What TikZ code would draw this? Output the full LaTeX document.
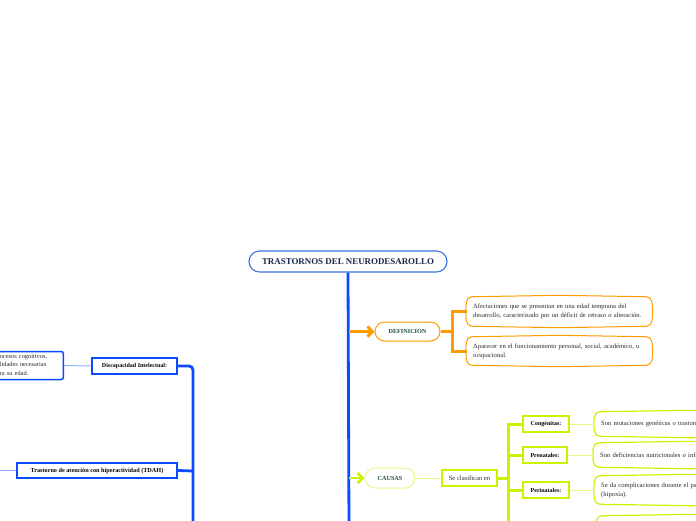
\documentclass[tikz,border=0pt]{standalone}
\usepackage{fontspec}
\setmainfont{Liberation Serif}
\usetikzlibrary{arrows.meta,calc}
\definecolor{trunkblue}{HTML}{0A4BFF}
\definecolor{titleblue}{HTML}{3B72E0}
\definecolor{lightblue}{HTML}{8FB0FF}
\definecolor{navy}{HTML}{1B2A4E}
\definecolor{tealtxt}{HTML}{1F4D4A}
\definecolor{orangec}{HTML}{FF9A00}
\definecolor{limec}{HTML}{CCF200}
\definecolor{limelight}{HTML}{E4F98A}
\definecolor{txt}{HTML}{2A2A2A}
\newcommand\puffy[2]{\draw[#2,rounded corners=5pt] (#1.north west) -- ($(#1.north)+(0,-1.5)$) -- (#1.north east) -- ($(#1.east)+(1.5,0)$) -- (#1.south east) -- ($(#1.south)+(0,1.5)$) -- (#1.south west) -- ($(#1.west)+(-1.5,0)$) -- cycle;}
\tikzset{
  titlebox/.style={draw=titleblue, line width=1.1pt, rounded corners=10.5pt, fill=white,
    minimum width=198pt, minimum height=21pt, inner sep=0pt, text=navy,
    font=\fontsize{8.9}{10}\selectfont\bfseries},
  pill/.style={rounded corners=9.5pt, minimum height=19pt, inner sep=0pt, text=tealtxt,
    font=\fontsize{6.2}{7}\selectfont\bfseries, fill=white},
  longtxt/.style={align=left, inner xsep=6pt, inner ysep=0pt, text=txt,
    font=\fontsize{6.6}{9}\selectfont, anchor=west},
  label/.style={draw, inner sep=0pt, minimum height=15.5pt, text=black,
    font=\fontsize{6}{7}\selectfont\bfseries, fill=white},
  thickblue/.style={draw=trunkblue, line width=2.8pt},
  thinblue/.style={draw=lightblue, line width=1pt},
  thickor/.style={draw=orangec, line width=3pt},
  thicklime/.style={draw=limec, line width=3pt},
  thinlime/.style={draw=limelight, line width=1pt},
}
\begin{document}
\begin{tikzpicture}[x=1pt,y=-1pt]
\useasboundingbox (0,0) rectangle (696,520);

% ---- title and trunk
\node[titlebox] (title) at (348,261.5) {TRASTORNOS DEL NEURODESAROLLO};
\coordinate (trunkend) at (349,530);
\draw[thickblue] (title.south) -- (trunkend);

% ---- DEFINICION branch
\node[pill, draw=orangec, line width=1pt, minimum width=65pt] (def) at (407.5,331.5) {DEFINICION};
\coordinate (tdef) at (349,331.5);
\draw[thickor, -{Straight Barb[length=5pt,width=10pt]}] (tdef) -- (def.west);
\coordinate (bdef) at (452,331.5);
\node[longtxt, minimum width=184pt, minimum height=29pt, text width=172pt] (d1) at (467,311.5)
  {Afectaciones que se presentan en una edad temprana del\\desarrollo, caracterizado por un déficit de retraso o alteración.};
\node[longtxt, minimum width=184pt, minimum height=28pt, text width=172pt] (d2) at (467,351)
  {Aparecer en el funcionamiento personal, social, académico, u\\ocupacional.};
\puffy{d1}{orangec, line width=1pt}
\puffy{d2}{orangec, line width=1pt}
\draw[thickor] (def.east) -- (bdef);
\draw[thickor] (d1.west) -| (bdef) |- (d2.west);

% ---- CAUSAS branch
\node[pill, draw=limelight, line width=1pt, minimum width=50pt, minimum height=20pt, rounded corners=10pt] (cau) at (390,478) {CAUSAS};
\coordinate (tcau) at (349,478);
\draw[draw=limec, line width=2.5pt, -{Straight Barb[length=5pt,width=10pt]}] (tcau) -- (cau.west);
\node[draw=limec, line width=1.6pt, minimum width=55pt, minimum height=16pt, inner sep=0pt,
  font=\fontsize{6.6}{7}\selectfont, text=txt] (cla) at (469.5,478) {Se clasifican en};
\draw[thinlime] (cau.east) -- (cla.west);
\coordinate (bcau) at (508,478);
\coordinate (bcauend) at (508,530);
\draw[thicklime] (cla.east) -- (bcau);

\node[label, draw=limec, line width=1.6pt, minimum width=46pt] (con) at (546,424) {Congénitas:};
\node[label, draw=limec, line width=1.6pt, minimum width=44pt] (pre) at (545,455) {Prenatales:};
\node[label, draw=limec, line width=1.6pt, minimum width=46pt] (per) at (546,490) {Perinatales:};
\coordinate (bcon) at (508,424);
\draw[thicklime] (con.west) -- (bcon) -- (bcauend);
\draw[thicklime] (pre.west) -| (bcon);
\draw[thicklime] (per.west) -| (bcon);

\node[longtxt, minimum width=190pt, minimum height=24pt, text width=178pt] (ccon) at (595,424)
  {Son mutaciones genéticas o trastornos cromosómicos.};
\node[longtxt, minimum width=190pt, minimum height=24pt, text width=178pt] (cpre) at (594,455)
  {Son deficiencias nutricionales o infecciones de la madre.};
\node[longtxt, minimum width=190pt, minimum height=28pt, text width=178pt] (cper) at (595,490)
  {Se da complicaciones durante el parto\\(hipoxia).};
\node[longtxt, minimum width=190pt, minimum height=28pt] (cpos) at (597,530) {};
\puffy{ccon}{limec, line width=1.2pt}
\puffy{cpre}{limec, line width=1.2pt}
\puffy{cper}{limec, line width=1.2pt}
\puffy{cpos}{limec, line width=1.2pt}
\draw[thinlime] (con.east) -- (ccon.west);
\draw[thinlime] (pre.east) -- (cpre.west);
\draw[thinlime] (per.east) -- (cper.west);

% ---- left branch
\node[label, draw=trunkblue, line width=1.5pt, minimum width=85pt, minimum height=16pt] (dis) at (134.5,366) {Discapacidad Intelectual:};
\node[label, draw=trunkblue, line width=1.5pt, minimum width=160pt, minimum height=15pt,
  font=\fontsize{6.2}{7}\selectfont\bfseries] (tda) at (97,470.5) {Trastorno de atención con hiperactividad (TDAH)};
\node[draw=trunkblue, line width=1.5pt, rounded corners=2pt, anchor=east,
  minimum height=28pt, inner xsep=3pt, inner ysep=0pt, align=left, text width=94pt, text=txt,
  font=\fontsize{6.4}{8.5}\selectfont] (dtx) at (64,365.5)
  {\hspace*{33.5pt}\llap{pr}ocesos cognitivos,\\\hspace*{33.5pt}\llap{habi}lidades necesarias\\\hspace*{33.5pt}\llap{pa}ra su edad.};
\draw[thinblue] (dtx.east) -- (dis.west);
\coordinate (lbr) at (193,471);
\coordinate (lbrend) at (193,530);
\draw[thickblue, rounded corners=4pt] (dis.east) -| (lbr) -- (lbrend);
\draw[thickblue] (tda.east) -- (lbr);
\coordinate (tdl) at (-5,470.5);
\draw[thinblue] (tdl) -- (tda.west);
\end{tikzpicture}
\end{document}
